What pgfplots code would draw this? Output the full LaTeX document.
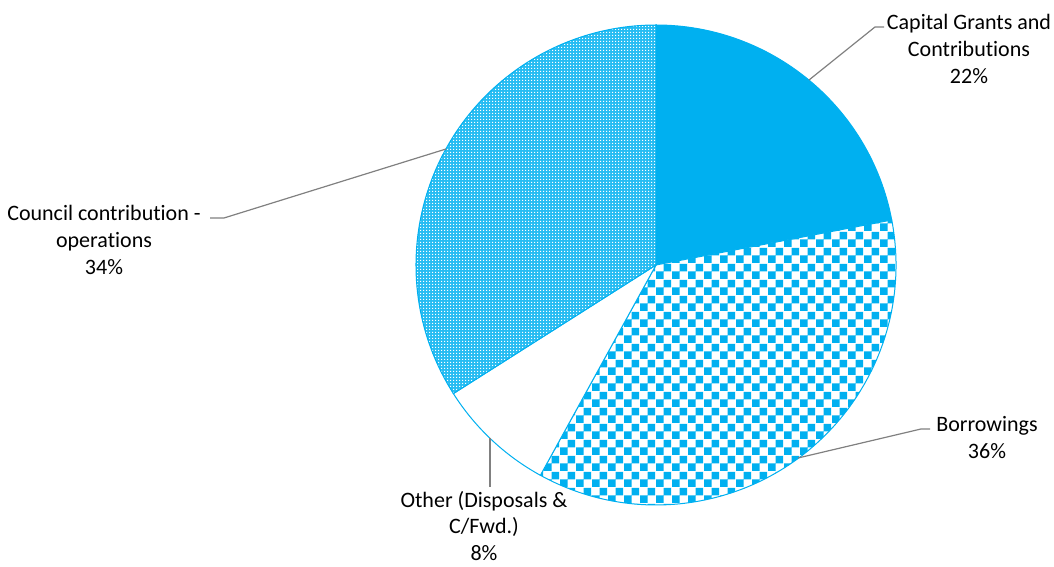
\documentclass[border=0pt]{standalone}
\usepackage{pgfplots}
\pgfplotsset{compat=1.18}
\usepackage{pgfplotstable}
\usetikzlibrary{patterns}
\usepackage{fontspec}
\setmainfont{Carlito}[Ligatures=NoCommon]
\definecolor{cyanC}{HTML}{00B0F0}
\definecolor{leadC}{HTML}{808080}
\pgfdeclarepatternformonly{checkbig}{\pgfpointorigin}{\pgfqpoint{12pt}{12pt}}{\pgfqpoint{12pt}{12pt}}{%
  \pgfpathrectangle{\pgfpointorigin}{\pgfqpoint{6pt}{6pt}}%
  \pgfpathrectangle{\pgfqpoint{6pt}{6pt}}{\pgfqpoint{6pt}{6pt}}%
  \pgfusepath{fill}}
\pgfdeclarepatternformonly{checksmall}{\pgfpointorigin}{\pgfqpoint{2.25pt}{2.25pt}}{\pgfqpoint{2.25pt}{2.25pt}}{%
  \pgfpathrectangle{\pgfpointorigin}{\pgfqpoint{1.0pt}{1.0pt}}%
  \pgfusepath{fill}}
\pgfplotstableread{
label value
Capital 22
Borrowings 36
Other 8
Council 34
}\piedata
\pgfplotstablegetelem{0}{value}\of\piedata \let\vA\pgfplotsretval
\pgfplotstablegetelem{1}{value}\of\piedata \let\vB\pgfplotsretval
\pgfplotstablegetelem{2}{value}\of\piedata \let\vC\pgfplotsretval
\pgfplotstablegetelem{3}{value}\of\piedata \let\vD\pgfplotsretval
\pgfmathsetmacro{\aA}{90}
\pgfmathsetmacro{\aB}{\aA-3.6*\vA}
\pgfmathsetmacro{\aC}{\aB-3.6*\vB}
\pgfmathsetmacro{\aD}{\aC-3.6*\vC}
\pgfmathsetmacro{\aE}{\aD-3.6*\vD}
\def\R{180pt}
\begin{document}
\begin{tikzpicture}
\begin{axis}[
  at={(0,0)}, anchor=south west,
  scale only axis, width=790.5pt, height=425.25pt,
  xmin=0, xmax=1054, ymin=0, ymax=567,
  hide axis, clip=false,
  font=\fontsize{16.5}{20.2}\selectfont,
]
\addplot[draw=none, forget plot] coordinates {(0,0) (1054,567)};
% Capital Grants
\filldraw[fill=cyanC, draw=cyanC, line width=0.75pt] (axis cs:656,302) -- ++(\aA:\R) arc[start angle=\aA, end angle=\aB, radius=\R] -- cycle;
% Borrowings
\fill[white] (axis cs:656,302) -- ++(\aB:\R) arc[start angle=\aB, end angle=\aC, radius=\R] -- cycle;
\fill[pattern=checkbig, pattern color=cyanC] (axis cs:656,302) -- ++(\aB:\R) arc[start angle=\aB, end angle=\aC, radius=\R] -- cycle;
\draw[cyanC, line width=0.75pt] (axis cs:656,302) -- ++(\aB:\R) arc[start angle=\aB, end angle=\aC, radius=\R] -- cycle;
% Other
\filldraw[fill=white, draw=cyanC, line width=0.75pt] (axis cs:656,302) -- ++(\aC:\R) arc[start angle=\aC, end angle=\aD, radius=\R] -- cycle;
% Council
\fill[cyanC!85!white] (axis cs:656,302) -- ++(\aD:\R) arc[start angle=\aD, end angle=\aE, radius=\R] -- cycle;
\fill[pattern=checksmall, pattern color=white] (axis cs:656,302) -- ++(\aD:\R) arc[start angle=\aD, end angle=\aE, radius=\R] -- cycle;
\draw[cyanC, line width=0.75pt] (axis cs:656,302) -- ++(\aD:\R) arc[start angle=\aD, end angle=\aE, radius=\R] -- cycle;
% leader lines
\draw[leadC, line width=0.9pt] (axis cs:809,487) -- (axis cs:875,540) -- (axis cs:884,540);
\draw[leadC, line width=0.9pt] (axis cs:446,418) -- (axis cs:224,349) -- (axis cs:210,349);
\draw[leadC, line width=0.9pt] (axis cs:798,109) -- (axis cs:921,138) -- (axis cs:930,138);
\draw[leadC, line width=0.9pt] (axis cs:490,129) -- (axis cs:490,80);
% labels
\node[align=center, inner sep=0pt] at (axis cs:969,518) {Capital Grants and\\Contributions\\22\%};
\node[align=center, inner sep=0pt] at (axis cs:104,327) {Council contribution -\\operations\\34\%};
\node[align=center, inner sep=0pt] at (axis cs:987,129.5) {Borrowings\\36\%};
\node[align=center, inner sep=0pt] at (axis cs:484,41) {Other (Disposals \&\\C/Fwd.)\\8\%};
\end{axis}
\path[use as bounding box] (0,0) rectangle (790.5pt,425.25pt);
\end{tikzpicture}
\end{document}
